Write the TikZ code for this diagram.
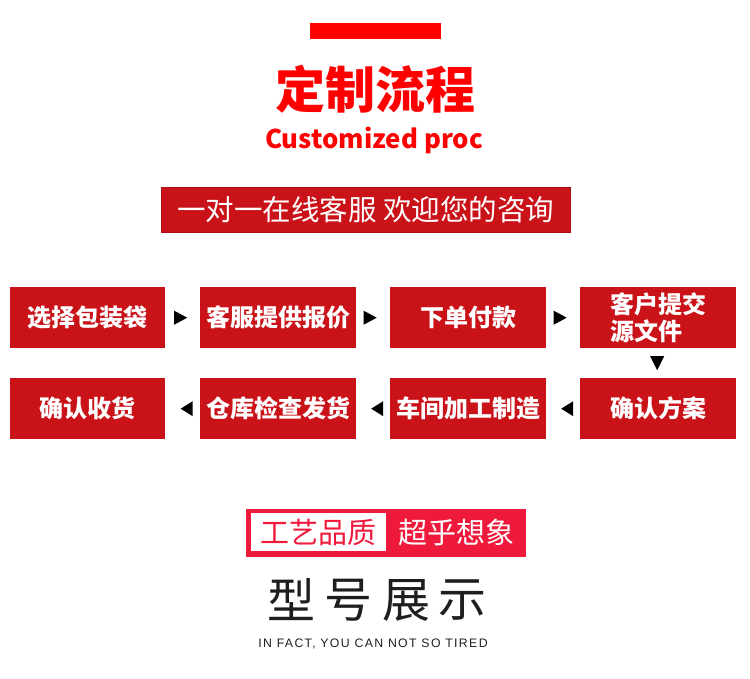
\documentclass[tikz,border=0pt]{standalone}
\usepackage{fontspec}
\setmainfont{Noto Sans CJK SC}
\newfontfamily\latf{Liberation Sans}
\usetikzlibrary{calc}
\definecolor{boxred}{HTML}{CA1319}
\definecolor{purered}{HTML}{FF0000}
\definecolor{pinkred}{HTML}{EF1A3B}
\definecolor{darktext}{HTML}{1E1E1E}
\begin{document}
\begin{tikzpicture}[x=1pt,y=-1pt,
  stepbox/.style={fill=boxred, text=white, minimum width=156pt, minimum height=61pt, inner sep=0pt,
    font=\fontsize{24}{27}\selectfont\bfseries, anchor=north west},
  tri/.style={fill=black}]
\useasboundingbox (0,0) rectangle (750,678);
% top bar
\fill[purered] (310,23) rectangle (441,39);
\node[text=purered, font=\fontsize{50}{50}\selectfont\bfseries, inner sep=0pt] (title) at (375,89) {定制流程};
\node[text=purered, font=\fontsize{25.8}{25.8}\selectfont\bfseries, inner sep=0pt, anchor=base] (sub) at (374,148) {Customized proc};
% banner
\node[fill=boxred, draw=boxred!85!black, line width=0.8pt, minimum width=409pt, minimum height=45pt, inner sep=0pt,
  text=white, font=\fontsize{28.5}{28.5}\selectfont, anchor=north west] (banner) at (161,187) {一对一在线客服 欢迎您的咨询};
% row 1
\node[stepbox, minimum width=155pt] (b1) at (10,287) {选择包装袋};
\node[stepbox] (b2) at (200,287) {客服提供报价};
\node[stepbox] (b3) at (390,287) {下单付款};
\node[stepbox, align=left] (b4) at (580,287) {客户提交\\源文件};
% row 2
\node[stepbox, minimum width=155pt] (c1) at (10,378) {确认收货};
\node[stepbox] (c2) at (200,378) {仓库检查发货};
\node[stepbox] (c3) at (390,378) {车间加工制造};
\node[stepbox] (c4) at (580,378) {确认方案};
% arrows row 1 (right)
\foreach \a/\b/\d in {b1/b2/-2, b2/b3/-3, b3/b4/-3}{
  \fill[tri] ($(\a.east)!0.5!(\b.west)+(\d,0)$) +(-6.5,-7) -- +(6.5,0) -- +(-6.5,7) -- cycle;
}
% down arrow
\fill[tri] ($(b4.south)!0.5!(c4.north)+(-1,0)$) +(-7,-7) -- +(7,-7) -- +(0,7) -- cycle;
% arrows row 2 (left)
\foreach \a/\b/\d in {c4/c3/4, c3/c2/4, c2/c1/4}{
  \fill[tri] ($(\a.west)!0.5!(\b.east)+(\d,0)$) +(6,-7.5) -- +(-6,0) -- +(6,7.5) -- cycle;
}
% bottom badge
\fill[pinkred] (246,509) rectangle (526,557);
\fill[white] (251,513) rectangle (386,551);
\node[text=pinkred, font=\fontsize{29}{29}\selectfont, inner sep=0pt] (q1) at (318.5,532) {工艺品质};
\node[text=white, font=\fontsize{29}{29}\selectfont, inner sep=0pt] (q2) at (456,532) {超乎想象};
% model display
\foreach \ch/\x [count=\i] in {型/291.5, 号/348.5, 展/406, 示/462.5}{
  \node[text=darktext, font=\fontsize{48}{48}\selectfont, inner sep=0pt] (m\i) at (\x,600) {\ch};
}
\node[text=darktext, font=\latf\fontsize{12.3}{12.3}\selectfont\addfontfeature{LetterSpace=11}, inner sep=0pt, anchor=base] (eng) at (373,647) {IN FACT, YOU CAN NOT SO TIRED};
\end{tikzpicture}
\end{document}
